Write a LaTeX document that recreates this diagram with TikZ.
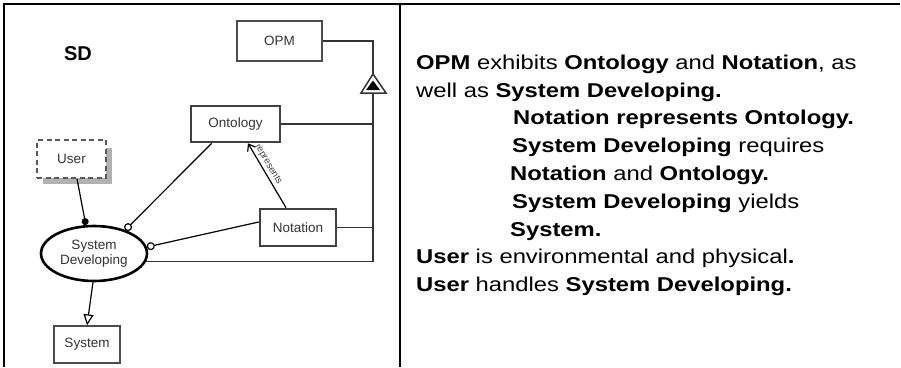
\documentclass[tikz,border=0pt]{standalone}
\usepackage{fontspec}
\setmainfont{Liberation Sans}
\newfontfamily\widesans[FakeStretch=1.19]{Liberation Sans}
\usetikzlibrary{arrows.meta,shapes.geometric,calc}
\tikzset{
  obj/.style={draw=black!70, line width=1.3pt, fill=white, rectangle, inner sep=0pt,
              font=\fontsize{13.5}{15}\selectfont, text=black!80},
  thickobj/.style={obj, draw=black!75, line width=2.6pt},
  proc/.style={draw=black, line width=2.6pt, fill=white, ellipse, inner sep=0pt,
               font=\fontsize{13.5}{15}\selectfont, text=black!80, align=center},
  link/.style={line width=1.2pt, draw=black},
  struct/.style={line width=1.2pt, draw=black!80},
  txt/.style={anchor=base west, inner sep=0pt, font=\widesans\fontsize{20}{24}\selectfont},
}
\begin{document}
\begin{tikzpicture}[x=1pt,y=-1pt]
\useasboundingbox (0,0) rectangle (901,367);
% frame
\coordinate (f1) at (4,367); \coordinate (f2) at (4,4); \coordinate (f3) at (900,4);
\coordinate (d1) at (400,4); \coordinate (d2) at (400,367);
\draw[line width=1.3pt] (f1) -- (f2) -- (f3);
\draw[line width=1.3pt] (d1) -- (d2);
% title
\node[font=\bfseries\fontsize{20}{24}\selectfont] (sd) at (78,54) {SD};
% objects
\node[obj, minimum width=85pt, minimum height=40pt] (opm) at (279.5,41) {OPM};
\node[thickobj, minimum width=89pt, minimum height=36pt] (ont) at (235.5,124) {Ontology};
\node[thickobj, minimum width=76pt, minimum height=37pt] (not) at (298,227.5) {Notation};
\fill[black!30] (43,148) rectangle (112,184);
\node[obj, dashed, dash pattern=on 5pt off 3.5pt, draw=black!65, line width=1.5pt, minimum width=69pt, minimum height=38pt] (user) at (71.5,159) {User};
\node[proc, minimum width=106pt, minimum height=55pt] (sdp) at (94,253.5) {System\\Developing};
\node[obj, minimum width=66pt, minimum height=37pt] (sys) at (87,344.5) {System};
% structural (exhibition)
\coordinate (c1) at (373,41);
\coordinate (apex) at (373,74);
\coordinate (bl) at (361,93);
\coordinate (br) at (386,93);
\coordinate (base) at (373,93);
\coordinate (bus) at (373,262);
\draw[struct] (opm.east) -- (c1) -- (apex);
\draw[struct, line width=1.5pt, fill=white] (apex) -- (bl) -- (br) -- cycle;
\fill[black] (373,80.5) -- (366,90) -- (380,90) -- cycle;
\draw[struct] (base) -- (bus);
\draw[struct] (ont.east) -- (ont.east -| bus);
\draw[struct] (not.east) -- (not.east -| bus);
\draw[struct] (sdp.-9.6) -- (sdp.-9.6 -| bus);
% procedural links
\draw[link, -{Circle[length=7pt]}] ([xshift=5.5pt]user.south) -- (sdp.106);
\draw[link, -{Circle[open, length=8pt, fill=white]}] ([xshift=22pt]ont.south west) -- (sdp.37);
\draw[link, -{Circle[open, length=8pt, fill=white]}] ([yshift=5.5pt]not.west) -- (sdp.7);
\draw[link, -{Straight Barb[length=6pt, width=9pt]}] ([xshift=-12pt]not.north) -- node[sloped, above, font=\fontsize{9.5}{11}\selectfont, text=black!75, inner sep=2pt, pos=0.62] (rep) {represents} ([xshift=12.5pt]ont.south);
\draw[link, -{Triangle[open, length=11pt, width=10pt, fill=white]}] (sdp.-92) -- (sys.north);
% text
\node[txt] (t1) at (416,69.3) {\textbf{OPM} exhibits \textbf{Ontology} and \textbf{Notation}, as};
\node[txt] (t2) at (416,97.1) {well as \textbf{System Developing.}};
\node[txt] (t3) at (513,124.9) {\textbf{Notation represents Ontology.}};
\node[txt] (t4) at (512,152.7) {\textbf{System Developing} requires};
\node[txt] (t5) at (510,180.5) {\textbf{Notation} and \textbf{Ontology.}};
\node[txt] (t6) at (512,208.3) {\textbf{System Developing} yields};
\node[txt] (t7) at (510,236.1) {\textbf{System.}};
\node[txt] (t8) at (416,263.9) {\textbf{User} is environmental and physical\textbf{.}};
\node[txt] (t9) at (416,291.7) {\textbf{User} handles \textbf{System Developing.}};
\end{tikzpicture}
\end{document}
